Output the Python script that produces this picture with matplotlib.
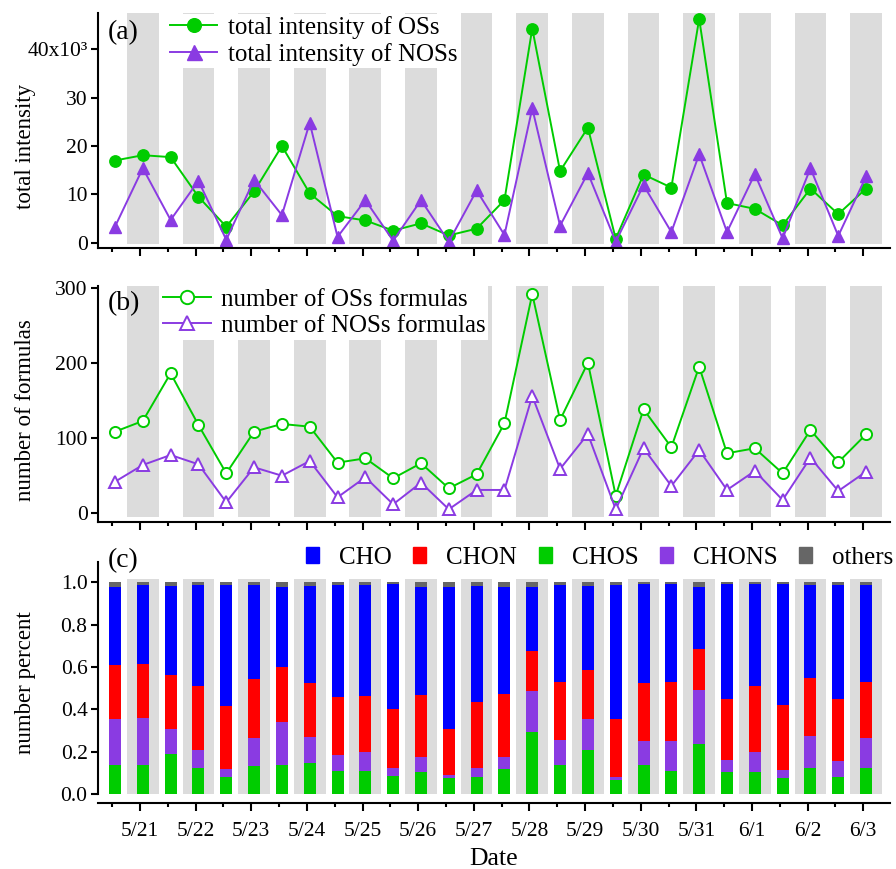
import numpy as np
import matplotlib.pyplot as plt
from matplotlib.patches import Patch

plt.rcParams['font.family'] = 'Liberation Serif'

dates = ['5/21', '5/22', '5/23', '5/24', '5/25', '5/26', '5/27',
         '5/28', '5/29', '5/30', '5/31', '6/1', '6/2', '6/3']

# total intensity (x10^3)
int_os = [17.0, 18.1, 17.7, 9.5, 3.3, 10.6, 20.0, 10.2, 5.5, 4.6, 2.5, 4.0, 1.5, 2.9,
          8.8, 44.3, 14.8, 23.8, 0.8, 14.1, 11.4, 46.3, 8.2, 7.0, 3.6, 11.2, 5.9, 11.2]
int_nos = [3.3, 15.4, 4.7, 12.8, 0.6, 13.0, 5.7, 24.8, 1.2, 8.8, 0.4, 8.8, 0.2, 10.8,
           1.6, 27.8, 3.5, 14.4, 0.2, 11.9, 2.2, 18.3, 2.2, 14.2, 0.9, 15.4, 1.4, 13.7]

# number of formulas
num_os = [108.8, 123.1, 186.7, 117.7, 53.3, 108.8, 119.1, 115.5, 67.5, 73.3, 46.7, 66.7, 33.3, 52.0,
          120.0, 292.4, 124.4, 200.8, 23.5, 138.7, 88.0, 195.5, 80.0, 86.7, 53.3, 111.1, 68.0, 105.3]
num_nos = [42.1, 64.4, 77.7, 65.3, 14.7, 61.3, 50.1, 69.7, 21.3, 48.0, 12.0, 40.8, 5.3, 31.1,
           31.1, 156.4, 59.1, 105.7, 5.3, 86.7, 36.4, 84.4, 31.1, 56.4, 17.7, 74.1, 29.7, 55.5]

# number percent of each group
chos = [.138, .139, .191, .121, .078, .130, .138, .147, .107, .110, .085, .103, .075, .078,
        .118, .295, .135, .207, .066, .135, .107, .237, .103, .102, .075, .124, .080, .122]
chons = [.218, .221, .116, .086, .040, .133, .201, .123, .078, .086, .037, .074, .014, .047,
         .058, .191, .122, .149, .014, .113, .145, .255, .057, .094, .039, .152, .074, .144]
chon = [.254, .254, .257, .301, .297, .281, .260, .252, .271, .266, .279, .289, .217, .311,
        .297, .190, .270, .230, .276, .277, .276, .193, .290, .312, .308, .273, .296, .264]
cho = [.366, .373, .419, .481, .574, .445, .381, .462, .533, .527, .593, .510, .674, .548,
       .503, .300, .460, .398, .633, .467, .463, .291, .544, .486, .570, .440, .537, .456]
others = [.024, .013, .017, .011, .011, .011, .020, .016, .011, .011, .006, .024, .020, .016,
          .024, .024, .013, .016, .011, .008, .009, .024, .006, .006, .008, .011, .013, .014]

green = '#00cc00'
purple = '#8a3be2'
band = '#dcdcdc'

x = np.arange(len(int_os))
night = x[1::2]

fig = plt.figure(figsize=(8.96, 8.69), dpi=100)
ax1 = fig.add_axes([0.1094, 0.7150, 0.8839, 0.2695])
ax2 = fig.add_axes([0.1094, 0.3990, 0.8839, 0.2719])
ax3 = fig.add_axes([0.1094, 0.0756, 0.8839, 0.2777])


def style(ax):
    ax.spines['top'].set_visible(False)
    ax.spines['right'].set_visible(False)
    for s in ['left', 'bottom']:
        ax.spines[s].set_linewidth(1.5)
    ax.set_xlim(-0.61, 27.86)
    ax.set_xticks(night - 0.1)
    ax.set_xticks(x[::2] - 0.1, minor=True)
    ax.tick_params(axis='x', which='major', length=5.5, width=1.5, direction='out')
    ax.tick_params(axis='x', which='minor', length=3, width=1.5, direction='out')
    ax.tick_params(axis='y', length=5, width=1.5, direction='out', labelsize=15.5, pad=2.5)


for ax in [ax1, ax2, ax3]:
    style(ax)

leg_kw = dict(loc='upper left', borderaxespad=0, fontsize=18, frameon=True,
              facecolor='white', edgecolor='none', framealpha=1, fancybox=False,
              borderpad=0.1, labelspacing=0.15, handlelength=1.9,
              handletextpad=0.42, markerscale=1.2)

# (a)
for n in night:
    ax1.axvspan(n - 0.57, n + 0.57, ymin=0.0145, color=band, lw=0, zorder=0)
ax1.plot(x, int_os, '-o', color=green, lw=1.4, ms=8.2, label='total intensity of OSs')
ax1.plot(x, int_nos, '-^', color=purple, lw=1.4, ms=9, label='total intensity of NOSs')
ax1.set_ylim(-1.03, 47.42)
ax1.set_yticks([0, 10, 20, 30, 40])
ax1.set_yticklabels(['0', '10', '20', '30', '40x10\u00b3'])
ax1.set_xticklabels([])
ax1.set_ylabel('total intensity', fontsize=16.5)
ax1.yaxis.set_label_coords(-0.078, 0.434)
ax1.legend(bbox_to_anchor=(0.0877, 0.9995), **leg_kw)
ax1.text(0.0126, 0.917, '(a)', transform=ax1.transAxes, fontsize=20, va='center')

# (b)
for n in night:
    ax2.axvspan(n - 0.57, n + 0.57, ymin=0.021, color=band, lw=0, zorder=0)
ax2.plot(x, num_os, '-o', color=green, lw=1.4, ms=8, mfc='white', mew=1.4,
         label='number of OSs formulas')
ax2.plot(x, num_nos, '-^', color=purple, lw=1.4, ms=8.5, mfc='white', mew=1.4,
         label='number of NOSs formulas')
ax2.set_ylim(-12.0, 303.1)
ax2.set_yticks([0, 100, 200, 300])
ax2.set_xticklabels([])
ax2.set_ylabel('number of formulas', fontsize=16.5)
ax2.yaxis.set_label_coords(-0.078, 0.475)
ax2.legend(bbox_to_anchor=(0.0789, 1.0), **leg_kw)
ax2.text(0.0126, 0.924, '(b)', transform=ax2.transAxes, fontsize=20, va='center')

# (c)
ax3.bar(night, 1.015, width=1.14, color=band, lw=0, zorder=0)
groups = [(chos, green), (chons, purple), (chon, '#ff0000'), (cho, '#0000ff'), (others, '#666666')]
bottom = np.zeros(len(x))
for vals, c in groups:
    ax3.bar(x, vals, width=0.43, bottom=bottom, color=c, lw=0, zorder=2)
    bottom += np.array(vals)
ax3.set_ylim(-0.044, 1.096)
ax3.spines['left'].set_bounds(0, 1.096)
ax3.set_yticks([0, 0.2, 0.4, 0.6, 0.8, 1.0])
ax3.set_yticklabels(['0.0', '0.2', '0.4', '0.6', '0.8', '1.0'])
ax3.set_xticklabels(dates, fontsize=15.5)
ax3.tick_params(axis='x', which='major', pad=8)
ax3.set_xlabel('Date', fontsize=18.5, labelpad=5)
ax3.set_ylabel('number percent', fontsize=16.5)
ax3.yaxis.set_label_coords(-0.078, 0.5)
handles = [Patch(color='#0000ff', label='CHO'), Patch(color='#ff0000', label='CHON'),
           Patch(color=green, label='CHOS'), Patch(color=purple, label='CHONS'),
           Patch(color='#666666', label='others')]
ax3.legend(handles=handles, loc='center right', bbox_to_anchor=(1.004, 1.017), ncol=5,
           frameon=False, borderaxespad=0, borderpad=0, fontsize=18, handlelength=0.52,
           handleheight=0.6, handletextpad=0.8, columnspacing=0.86)
ax3.text(0.0126, 1.004, '(c)', transform=ax3.transAxes, fontsize=20, va='center')

fig.savefig('out.png', dpi=100)
